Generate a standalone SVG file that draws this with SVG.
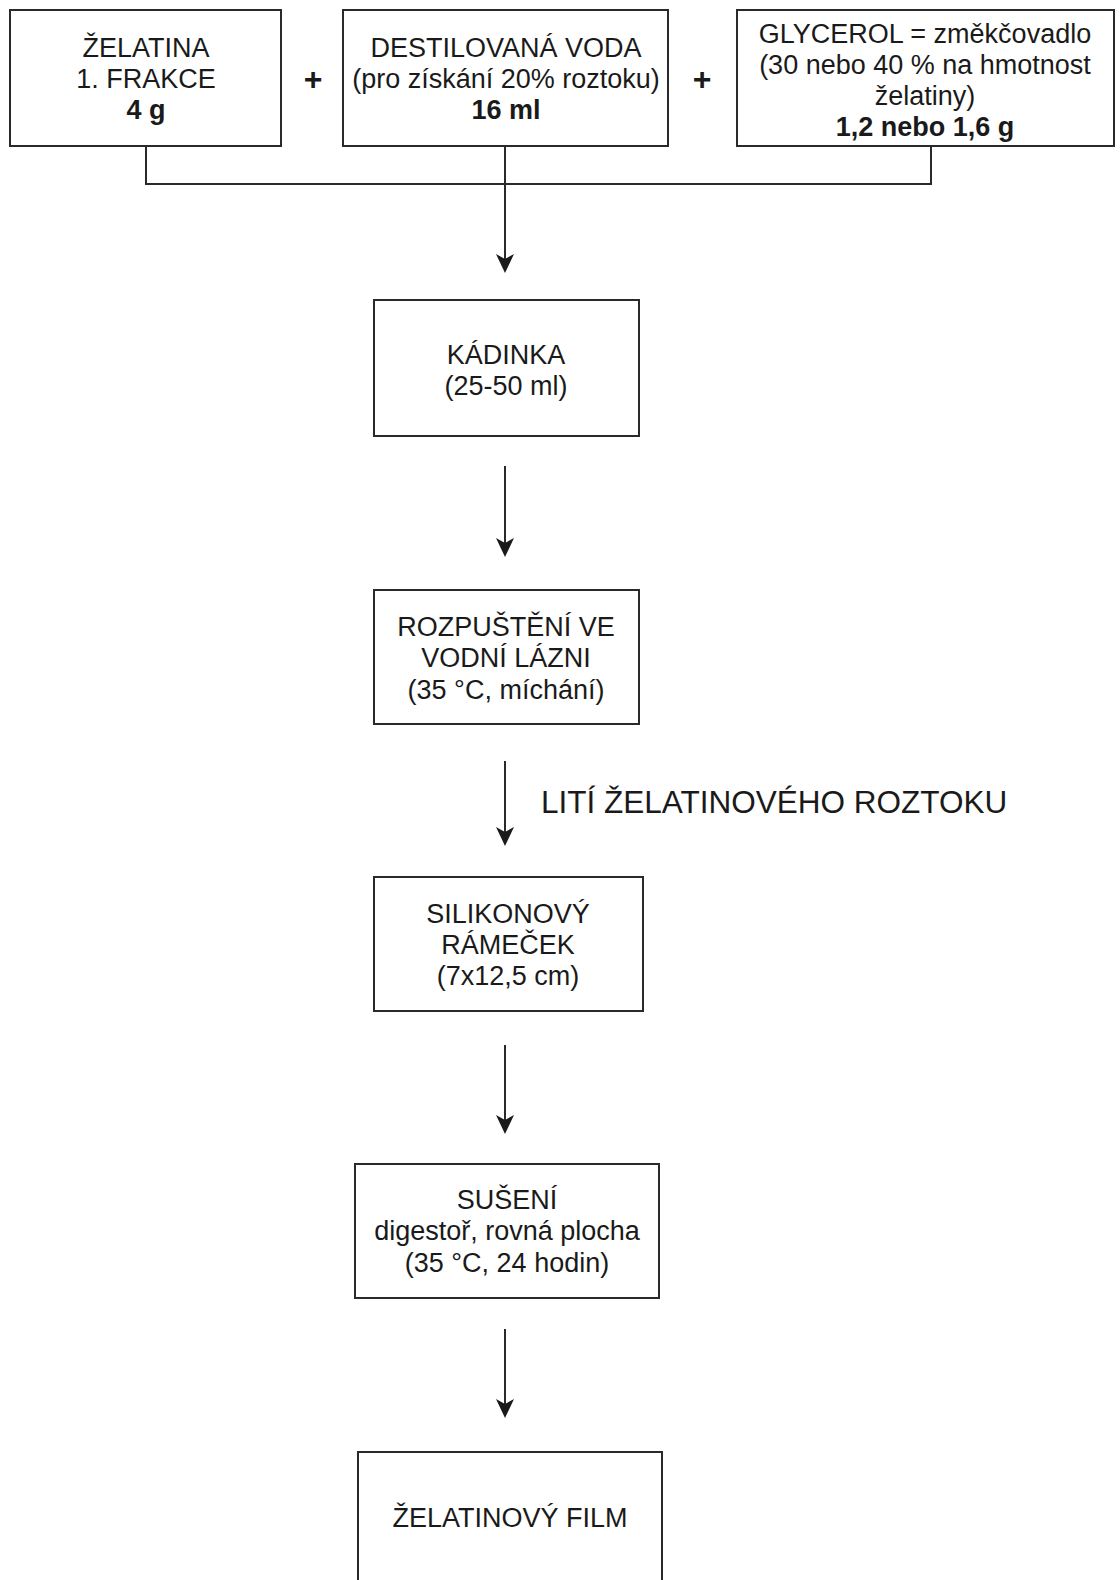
<svg xmlns="http://www.w3.org/2000/svg" width="1120" height="1580" viewBox="0 0 1120 1580">
<style>
.box{fill:#fff;stroke:#2a2a2a;stroke-width:2}
.t{font-family:"Liberation Sans",Arial,sans-serif;font-size:27px;fill:#1a1a1a;text-anchor:middle}
.b{font-weight:bold}
.ln{fill:none;stroke:#2a2a2a;stroke-width:2}
.ah{fill:#1a1a1a}
.lbl{font-family:"Liberation Sans",Arial,sans-serif;font-size:31.5px;fill:#1a1a1a}
.plus{font-family:"Liberation Sans",Arial,sans-serif;font-size:32px;font-weight:bold;fill:#1a1a1a;text-anchor:middle}
</style>
<defs>
<path id="head" class="ah" d="M-9,-19 L0,0 L9,-19 L0,-14 Z"/>
</defs>
<rect width="1120" height="1580" fill="#fff"/>
<g id="connectors">
<path class="ln" d="M146,146 V184 H931 V146"/>
<line class="ln" x1="505" y1="146" x2="505" y2="266"/>
<use href="#head" x="505" y="273"/>
<line class="ln" x1="505" y1="466" x2="505" y2="550"/>
<use href="#head" x="505" y="557"/>
<line class="ln" x1="505" y1="761" x2="505" y2="839"/>
<use href="#head" x="505" y="846"/>
<line class="ln" x1="505" y1="1045" x2="505" y2="1127"/>
<use href="#head" x="505" y="1134"/>
<line class="ln" x1="505" y1="1329" x2="505" y2="1411"/>
<use href="#head" x="505" y="1418"/>
<text class="lbl" x="541" y="813">LITÍ ŽELATINOVÉHO ROZTOKU</text>
</g>
<g id="plus1"><text class="plus" x="313" y="90">+</text></g>
<g id="plus2"><text class="plus" x="702" y="90">+</text></g>
<g id="n1">
<rect class="box" x="10" y="10" width="271" height="136"/>
<text class="t" x="146" y="57">ŽELATINA</text>
<text class="t" x="146" y="88">1. FRAKCE</text>
<text class="t b" x="146" y="119">4 g</text>
</g>
<g id="n2">
<rect class="box" x="343" y="10" width="325" height="136"/>
<text class="t" x="506" y="57">DESTILOVANÁ VODA</text>
<text class="t" x="506" y="88">(pro získání 20% roztoku)</text>
<text class="t b" x="506" y="119">16 ml</text>
</g>
<g id="n3">
<rect class="box" x="737" y="10" width="377" height="136"/>
<text class="t" x="925" y="43">GLYCEROL = změkčovadlo</text>
<text class="t" x="925" y="74">(30 nebo 40 % na hmotnost</text>
<text class="t" x="925" y="105">želatiny)</text>
<text class="t b" x="925" y="136">1,2 nebo 1,6 g</text>
</g>
<g id="n4">
<rect class="box" x="374" y="300" width="265" height="136"/>
<text class="t" x="506" y="364">KÁDINKA</text>
<text class="t" x="506" y="395">(25-50 ml)</text>
</g>
<g id="n5">
<rect class="box" x="374" y="590" width="265" height="134"/>
<text class="t" x="506" y="636">ROZPUŠTĚNÍ VE</text>
<text class="t" x="506" y="667">VODNÍ LÁZNI</text>
<text class="t" x="506" y="699">(35 °C, míchání)</text>
</g>
<g id="n6">
<rect class="box" x="374" y="877" width="269" height="134"/>
<text class="t" x="508" y="923">SILIKONOVÝ</text>
<text class="t" x="508" y="954">RÁMEČEK</text>
<text class="t" x="508" y="985">(7x12,5 cm)</text>
</g>
<g id="n7">
<rect class="box" x="355" y="1164" width="304" height="134"/>
<text class="t" x="507" y="1209">SUŠENÍ</text>
<text class="t" x="507" y="1240">digestoř, rovná plocha</text>
<text class="t" x="507" y="1272">(35 °C, 24 hodin)</text>
</g>
<g id="n8">
<rect class="box" x="358" y="1452" width="304" height="140"/>
<text class="t" x="510" y="1527">ŽELATINOVÝ FILM</text>
</g>
</svg>
